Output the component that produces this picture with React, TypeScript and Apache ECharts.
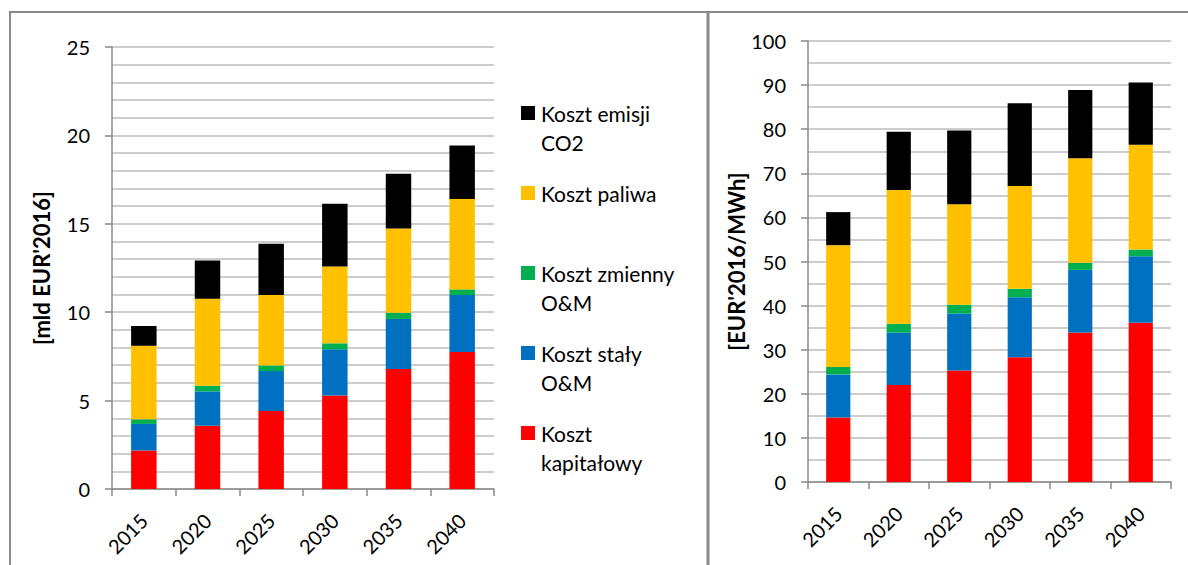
import React, { useEffect, useRef } from 'react';
import * as echarts from 'echarts';

const years = ['2015', '2020', '2025', '2030', '2035', '2040'];
const seriesNames = ['Koszt kapitałowy', 'Koszt stały O&M', 'Koszt zmienny O&M', 'Koszt paliwa', 'Koszt emisji CO2'];
const seriesColors = ['#FF0000', '#0070C0', '#00B050', '#FFC000', '#000000'];

// Left chart [mld EUR'2016]
const capexBn = [2.18, 3.58, 4.41, 5.29, 6.79, 7.75];
const fixedOmBn = [1.5, 1.94, 2.26, 2.61, 2.83, 3.22];
const varOmBn = [0.26, 0.32, 0.32, 0.34, 0.35, 0.32];
const fuelBn = [4.16, 4.92, 3.98, 4.35, 4.77, 5.11];
const co2Bn = [1.12, 2.17, 2.9, 3.55, 3.09, 3.03];

// Right chart [EUR'2016/MWh]
const capexMwh = [14.6, 22.0, 25.3, 28.3, 33.9, 36.1];
const fixedOmMwh = [9.8, 11.9, 12.9, 13.6, 14.2, 15.1];
const varOmMwh = [1.7, 2.0, 2.0, 1.9, 1.6, 1.5];
const fuelMwh = [27.6, 30.3, 22.8, 23.3, 23.7, 23.8];
const co2Mwh = [7.5, 13.2, 16.7, 18.8, 15.5, 14.1];

const legendLabels = ['Koszt emisji\nCO2', 'Koszt paliwa', 'Koszt zmienny\nO&M', 'Koszt stały\nO&M', 'Koszt\nkapitałowy'];
const legendColors = ['#000000', '#FFC000', '#00B050', '#0070C0', '#FF0000'];

const FONT = 'Lato';
const AXIS_COLOR = '#8a8a8a';
const GRID_COLOR = '#bdbdbd';

export default function App() {
  const ref = useRef<HTMLDivElement>(null);

  useEffect(() => {
    if (!ref.current) return;
    const chart = echarts.init(ref.current, undefined, { renderer: 'svg' });

    const leftData = [capexBn, fixedOmBn, varOmBn, fuelBn, co2Bn];
    const rightData = [capexMwh, fixedOmMwh, varOmMwh, fuelMwh, co2Mwh];

    const xAxisBase = (gridIndex: number) => ({
      type: 'category',
      gridIndex,
      data: years,
      boundaryGap: true,
      axisLine: { show: true, lineStyle: { color: AXIS_COLOR, width: 1.5 } },
      axisTick: { show: true, length: 7, lineStyle: { color: AXIS_COLOR, width: 1.5 } },
      axisLabel: { rotate: 45, fontSize: 20, color: '#000', fontFamily: FONT, margin: 28 },
      splitLine: { show: false },
    });

    const yAxisBase = (gridIndex: number, max: number, interval: number, minorSplit: number, name: string, nameGap: number) => ({
      type: 'value',
      gridIndex,
      min: 0,
      max,
      interval,
      name,
      nameLocation: 'middle',
      nameRotate: 90,
      nameGap,
      nameTextStyle: { fontSize: 22, fontWeight: 'bold', fontFamily: FONT, color: '#000' },
      axisLine: { show: true, lineStyle: { color: AXIS_COLOR, width: 1.5 } },
      axisTick: { show: true, length: 7, lineStyle: { color: AXIS_COLOR, width: 1.5 } },
      axisLabel: { fontSize: 20, color: '#000', fontFamily: FONT, margin: 22 },
      splitLine: { show: true, lineStyle: { color: GRID_COLOR, width: 1.5 } },
      minorTick: { show: false, splitNumber: minorSplit },
      minorSplitLine: { show: true, lineStyle: { color: GRID_COLOR, width: 1.5 } },
    });

    const series: any[] = [];
    seriesNames.forEach((name, i) => {
      series.push({
        name,
        type: 'bar',
        stack: 'left',
        xAxisIndex: 0,
        yAxisIndex: 0,
        barWidth: '40%',
        itemStyle: { color: seriesColors[i] },
        data: leftData[i],
      });
    });
    seriesNames.forEach((name, i) => {
      series.push({
        name,
        type: 'bar',
        stack: 'right',
        xAxisIndex: 1,
        yAxisIndex: 1,
        barWidth: '40%',
        itemStyle: { color: seriesColors[i] },
        data: rightData[i],
      });
    });

    const legendGraphics: any[] = [];
    legendLabels.forEach((label, i) => {
      const cy = 113 + 80 * i;
      legendGraphics.push({
        type: 'rect',
        shape: { x: 521, y: cy - 7, width: 14, height: 14 },
        style: { fill: legendColors[i] },
      });
      legendGraphics.push({
        type: 'text',
        x: 541,
        y: cy - 14.5,
        style: {
          text: label,
          fontSize: 21,
          fontFamily: FONT,
          fill: '#000',
          lineHeight: 29,
          verticalAlign: 'top',
          textAlign: 'left',
        },
      });
    });

    const frameStyle = { stroke: AXIS_COLOR, lineWidth: 2 };

    chart.setOption({
      animation: false,
      backgroundColor: '#ffffff',
      grid: [
        { left: 112, top: 47, width: 382, height: 442 },
        { left: 808, top: 41, width: 363, height: 441 },
      ],
      xAxis: [xAxisBase(0), xAxisBase(1)],
      yAxis: [
        yAxisBase(0, 25, 5, 5, "[mld EUR'2016]", 60),
        yAxisBase(1, 100, 10, 2, "[EUR'2016/MWh]", 53),
      ],
      series,
      graphic: [
        { type: 'line', shape: { x1: 9, y1: 12, x2: 1188, y2: 12 }, style: frameStyle },
        { type: 'line', shape: { x1: 10, y1: 12, x2: 10, y2: 565 }, style: frameStyle },
        { type: 'line', shape: { x1: 708, y1: 12, x2: 708, y2: 565 }, style: { stroke: AXIS_COLOR, lineWidth: 3 } },
        ...legendGraphics,
      ],
    });

    return () => {
      chart.dispose();
    };
  }, []);

  return (
    <div
      ref={ref}
      style={{ position: 'fixed', left: 0, top: 0, width: 1188, height: 565, background: '#fff' }}
    />
  );
}
